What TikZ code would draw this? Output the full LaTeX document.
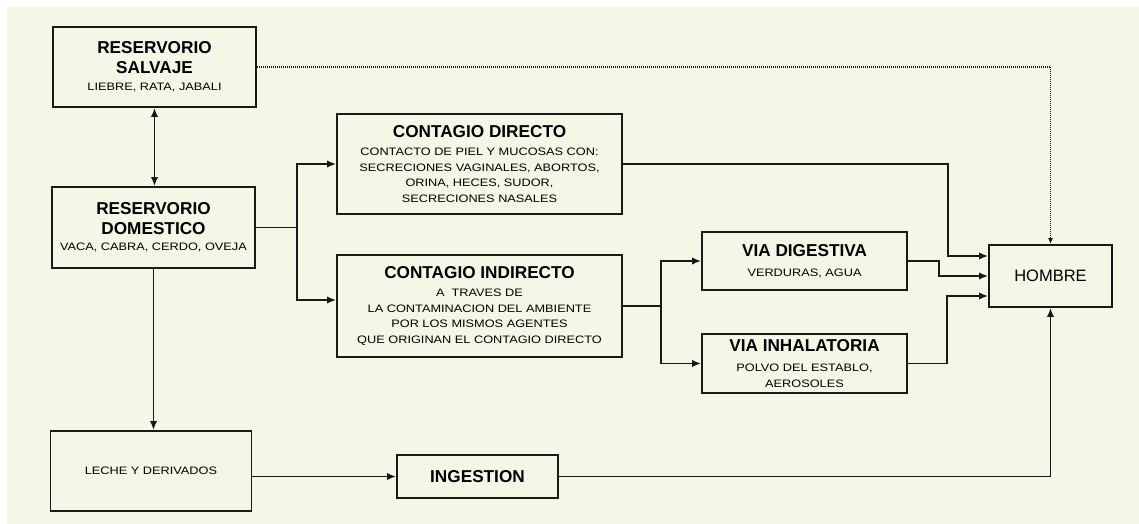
\documentclass[tikz,border=0pt]{standalone}
\usepackage{fontspec}
\setmainfont{Liberation Sans}
\newfontfamily\detfamily[FakeStretch=1.18]{Liberation Sans}
\usetikzlibrary{arrows.meta,calc}
\definecolor{papel}{RGB}{244,247,230}
\definecolor{tinta}{RGB}{25,25,25}
\newcommand{\titulo}{\rmfamily\bfseries\fontsize{17.2}{20}\selectfont}
\newcommand{\detalle}{\detfamily\fontsize{10.8}{15.5}\selectfont}

\begin{document}
\begin{tikzpicture}[x=1pt, y=-1pt,
    caja/.style={draw=tinta, line width=1.9pt, align=center, inner sep=0pt, font=\detalle},
    flecha/.style={draw=tinta, line width=1.7pt, -{Latex[length=9pt,width=7.5pt]}},
    doble/.style={draw=tinta, line width=1.7pt, {Latex[length=9pt,width=7.5pt]}-{Latex[length=9pt,width=7.5pt]}},
    punteada/.style={draw=tinta, line width=1.4pt, dash pattern=on 1pt off 1pt, -{Latex[length=6pt,width=5pt]}}]

    % Fondo (papel escaneado)
    \useasboundingbox (0,0) rectangle (1139,524);
    \fill[white] (0,0) rectangle (1139,524);
    \fill[papel] (7,7) rectangle (1139,524);

    % Reservorios
    \node[caja, minimum width=203pt, minimum height=80pt] (salv) at (154.5,67)
        {{\titulo RESERVORIO}\\[4.5pt]{\titulo SALVAJE}\\[1.5pt]LIEBRE, RATA, JABALI};
    \node[caja, minimum width=203pt, minimum height=81pt] (dom) at (153.5,227.5)
        {{\titulo RESERVORIO}\\[4.5pt]{\titulo DOMESTICO}\\[0.5pt]VACA, CABRA, CERDO, OVEJA};
    \node[caja, minimum width=201pt, minimum height=80pt] (leche) at (151,471)
        {LECHE Y DERIVADOS};

    % Formas de contagio
    \node[caja, minimum width=285pt, minimum height=100pt] (dir) at (479.5,164)
        {{\titulo CONTAGIO DIRECTO}\\[2.5pt]
         CONTACTO DE PIEL Y MUCOSAS CON:\\
         SECRECIONES VAGINALES, ABORTOS,\\
         ORINA, HECES, SUDOR,\\
         SECRECIONES NASALES};
    \node[caja, minimum width=285pt, minimum height=102pt] (ind) at (479.5,306)
        {{\titulo CONTAGIO INDIRECTO}\\[2.5pt]
         A\ \ TRAVES DE\\
         LA CONTAMINACION DEL AMBIENTE\\
         POR LOS MISMOS AGENTES\\
         QUE ORIGINAN EL CONTAGIO DIRECTO};
    \node[caja, minimum width=161pt, minimum height=43pt] (ing) at (477.5,476.5)
        {\titulo INGESTION};

    % Vias
    \node[caja, minimum width=205pt, minimum height=58pt] (dig) at (804.5,261)
        {{\titulo VIA DIGESTIVA}\\[4.5pt]VERDURAS, AGUA};
    \node[caja, minimum width=205pt, minimum height=59pt] (inh) at (804.5,363.5)
        {{\titulo VIA INHALATORIA}\\[4.5pt]POLVO DEL ESTABLO,\\AEROSOLES};

    % Hombre
    \node[caja, minimum width=123pt, minimum height=62pt, font=\rmfamily\fontsize{16.5}{20}\selectfont] (hom) at (1050.5,276)
        {HOMBRE};
    \coordinate (h1) at ([yshift=20pt]hom.west);
    \coordinate (h3) at ([yshift=-20pt]hom.west);

    % Conexiones
    \draw[doble] (salv.south) -- (salv.south |- dom.north);
    \draw[punteada] (salv.east) -| (hom.north);
    \draw[flecha] (dom.east) -- ++(41,0) coordinate (s1) |- (dir.west);
    \draw[flecha] (s1) |- ([yshift=6pt]ind.west);
    \draw[flecha] (dom.south) -- (dom.south |- leche.north);
    \draw[flecha] (leche.east |- ing.west) -- (ing.west);

    \draw[flecha] (ind.east) -- ++(38,0) coordinate (s2) |- (dig.west);
    \draw[flecha] (s2) |- (inh.west);

    \draw[flecha] (dir.east) -| ($(h1)+(-40,0)$) -- (h1);
    \draw[flecha] (dig.east) -- ++(31,0) |- (hom.west);
    \draw[flecha] (inh.east) -| ($(h3)+(-41,0)$) -- (h3);
    \draw[flecha] (ing.east) -| (hom.south);

\end{tikzpicture}
\end{document}
